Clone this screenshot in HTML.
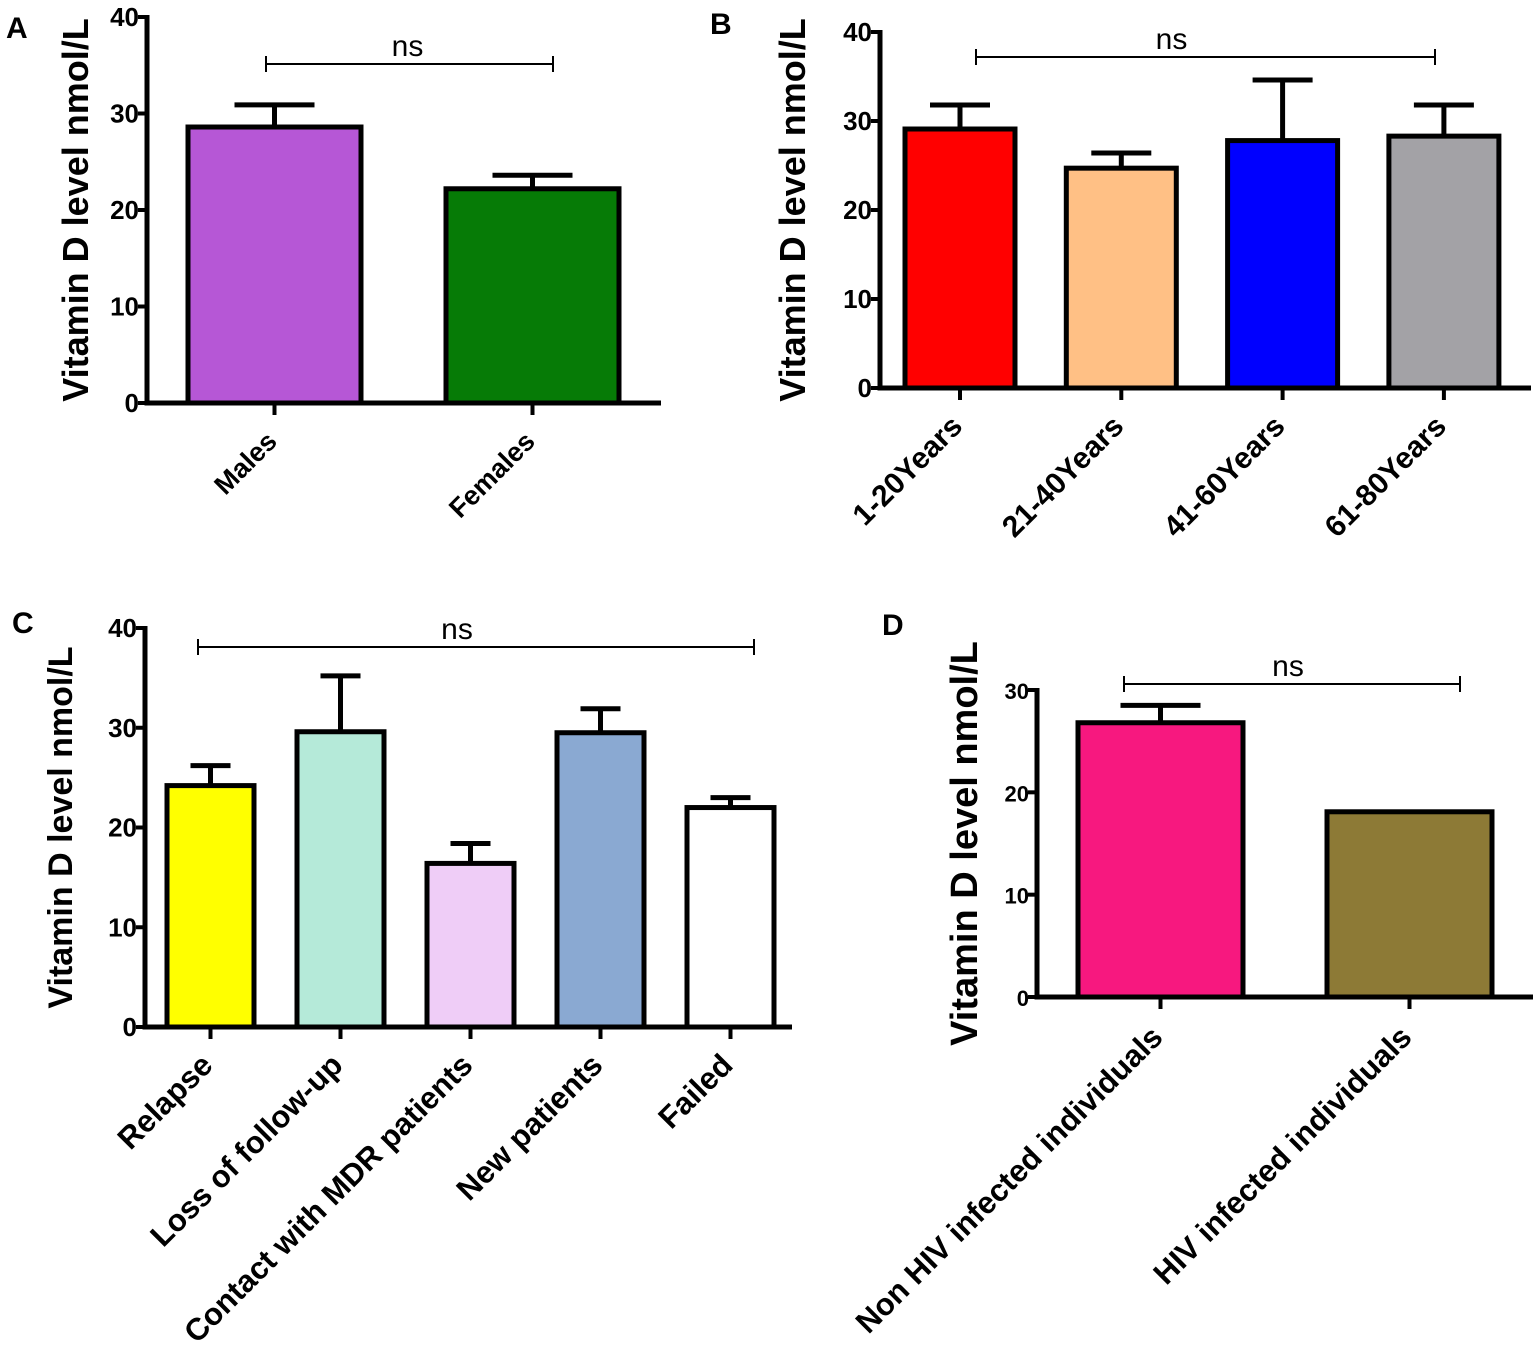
<!DOCTYPE html>
<html><head><meta charset="utf-8">
<style>
html,body{margin:0;padding:0;background:#fff;}
svg{display:block;font-family:"Liberation Sans Narrow","Liberation Sans",sans-serif;}
</style></head>
<body>
<svg id="fig" width="1539" height="1347" viewBox="0 0 1539 1347" xmlns="http://www.w3.org/2000/svg"></svg>
<script>
// Panel A data
const catsA = ["Males","Females"];
const valsA = [28.6, 22.2];
const errA = [30.9, 23.6];
const colorsA = ["#b657d6","#067b06"];
const ticksA = [0,10,20,30,40];
// Panel B data
const catsB = ["1-20Years","21-40Years","41-60Years","61-80Years"];
const valsB = [29.1, 24.7, 27.8, 28.3];
const errB = [31.8, 26.4, 34.6, 31.8];
const colorsB = ["#ff0000","#ffc085","#0000ff","#a3a2a6"];
const ticksB = [0,10,20,30,40];
// Panel C data
const catsC = ["Relapse","Loss of follow-up","Contact with MDR patients","New patients","Failed"];
const valsC = [24.2, 29.6, 16.4, 29.5, 22.0];
const errC = [26.2, 35.2, 18.4, 31.9, 23.0];
const colorsC = ["#ffff00","#b5ead9","#efcdf7","#8aa9d2","#ffffff"];
const ticksC = [0,10,20,30,40];
// Panel D data
const catsD = ["Non HIV infected individuals","HIV infected individuals"];
const valsD = [26.8, 18.1];
const errD = [28.5, 18.1];
const colorsD = ["#f7187f","#8d7a36"];
const ticksD = [0,10,20,30];

const svg = document.getElementById('fig');
const NS = "http://www.w3.org/2000/svg";
function mk(tag, attrs, parent){
  const e = document.createElementNS(NS, tag);
  for (const k in attrs) e.setAttribute(k, attrs[k]);
  (parent||svg).appendChild(e);
  return e;
}

function panel(p){
  const g = mk('g', {});
  
  
  const y = v => p.y0 - (v - 0) * (p.y0 - p.yTop) / p.maxV;
  const L = mk('text', {x:p.letter[0], y:p.letter[1], 'font-size':30, 'font-weight':'bold', 'font-family':'Liberation Sans, sans-serif'}, g);
  L.textContent = p.id;
  
  
  const yt = mk('text', {x:0, y:0, 'font-size':p.tfs, 'font-weight':'bold', 'text-anchor':'middle', transform:`translate(${p.titleX},${(p.y0+p.yTop)/2 + p.titleDy}) rotate(-90)`}, g);
  yt.textContent = 'Vitamin D level nmol/L';
  
  
  p.cats.forEach((c,i)=>{
    const x0 = p.bx0 + i*p.step, cx = x0 + p.bw/2;
    const top = y(p.vals[i]);
    const r = mk('rect', {x:x0, y:top, width:p.bw, height:p.y0 - top, fill:p.colors[i], stroke:'#000', 'stroke-width':5}, g);
    
    
    if (p.err[i] > p.vals[i]) {
      const et = y(p.err[i]);
      const eb = mk('path', {d:`M${cx},${top} V${et} M${cx-p.cap},${et} H${cx+p.cap}`, stroke:'#000', 'stroke-width':5, fill:'none'}, g);
      
      
    }
    const tk = mk('line', {x1:cx, x2:cx, y1:p.y0, y2:p.y0+12, stroke:'#000', 'stroke-width':4}, g);
    
    
    const lb = mk('text', {x:0, y:0, 'font-size':p.cfs, 'font-weight':'bold', 'text-anchor':'end', transform:`translate(${cx+4},${p.y0+p.labDy}) rotate(-45)`}, g);
    lb.textContent = c;
    
    
  });
  const ax = mk('path', {d:`M${p.ax},${p.yTop-2} V${p.y0} H${p.xEnd}`, stroke:'#000', 'stroke-width':5, fill:'none'}, g);
  
  
  p.ticks.forEach(t=>{
    const ty = y(t);
    const tl = mk('line', {x1:p.ax-9, x2:p.ax, y1:ty, y2:ty, stroke:'#000', 'stroke-width':4}, g);
    
    
    const tt = mk('text', {x:p.ax-8, y:ty+9, 'font-size':p.kfs, 'font-weight':'bold', 'text-anchor':'end'}, g);
    tt.textContent = t;
    
    
  });
  const b = p.br;
  const bp = mk('path', {d:`M${b[0]},${b[2]-8} V${b[2]+8} M${b[0]},${b[2]} H${b[1]} M${b[1]},${b[2]-8} V${b[2]+8}`, stroke:'#000', 'stroke-width':2, fill:'none'}, g);
  
  
  const ns = mk('text', {x:(b[0]+b[1])/2+ (p.nsDx||0), y:b[2]-8, 'font-size':30, 'text-anchor':'middle', 'font-family':'Liberation Sans, sans-serif'}, g);
  ns.textContent = 'ns';
  
  
}

panel({id:'A', cats:catsA, vals:valsA, err:errA, colors:colorsA, ticks:ticksA, maxV:40,
  y0:403, yTop:17, ax:147, xEnd:661, bx0:188, bw:173, step:258, cap:40,
  letter:[6,38], titleX:88, titleDy:0, tfs:36, kfs:26, cfs:27, labDy:40, br:[266,553,64], nsDx:-2});
panel({id:'B', cats:catsB, vals:valsB, err:errB, colors:colorsB, ticks:ticksB, maxV:40,
  y0:388, yTop:32, ax:880, xEnd:1531, bx0:905, bw:110, step:161.3, cap:30,
  letter:[710,34], titleX:805, titleDy:0, tfs:36, kfs:26, cfs:30, labDy:40, br:[976,1435,57], nsDx:-34});
panel({id:'C', cats:catsC, vals:valsC, err:errC, colors:colorsC, ticks:ticksC, maxV:40,
  y0:1027, yTop:628, ax:145, xEnd:792, bx0:167, bw:87, step:130, cap:20,
  letter:[12,633], titleX:72, titleDy:0, tfs:34, kfs:26, cfs:31, labDy:40, br:[198,754,647], nsDx:-19});
panel({id:'D', cats:catsD, vals:valsD, err:errD, colors:colorsD, ticks:ticksD, maxV:30,
  y0:997, yTop:690, ax:1037, xEnd:1533, bx0:1078, bw:165, step:249, cap:40,
  letter:[882,635], titleX:977, titleDy:0, tfs:38, kfs:22, cfs:31, labDy:42, br:[1124,1460,684], nsDx:-4});
</script>
</body></html>
